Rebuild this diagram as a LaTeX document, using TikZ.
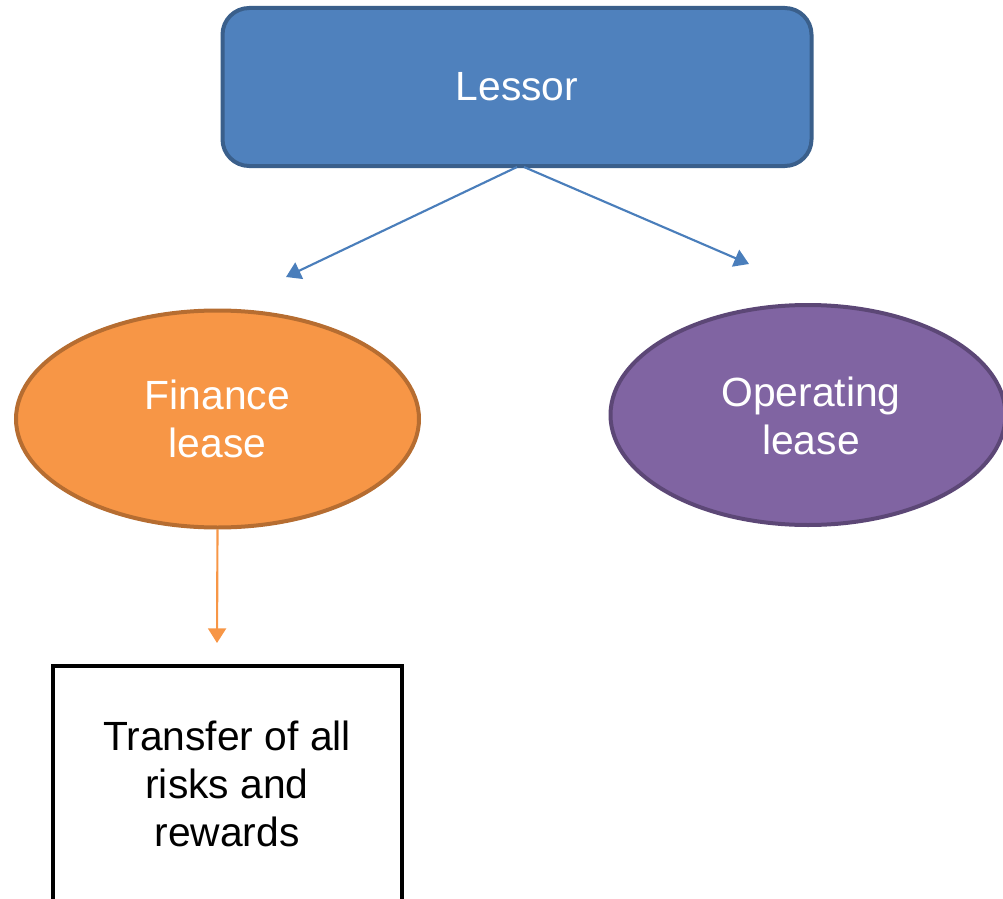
\documentclass[tikz,border=0pt]{standalone}
\usepackage{fontspec}
\setmainfont{Liberation Sans}
\usetikzlibrary{shapes.geometric,arrows.meta,calc}
\definecolor{lessorfill}{HTML}{4F81BD}
\definecolor{lessordraw}{HTML}{3A5F8B}
\definecolor{finfill}{HTML}{F79646}
\definecolor{findraw}{HTML}{B66D31}
\definecolor{opfill}{HTML}{8064A2}
\definecolor{opdraw}{HTML}{5C4776}
\definecolor{arrblue}{HTML}{4A7EBB}
\tikzset{
  lbl/.style={font=\fontsize{30.6}{36}\selectfont, align=center},
  roundbox/.style={draw=lessordraw, fill=lessorfill, line width=3pt, rounded corners=20pt, text=white, lbl},
  oval/.style={ellipse, line width=3pt, text=white, lbl, inner sep=0pt},
  plainbox/.style={draw=black, fill=white, line width=3pt, lbl},
  link/.style={line width=1.6pt, -{Triangle[width=13.5pt,length=11pt]}},
}
\begin{document}
\begin{tikzpicture}[x=0.75pt, y=-0.75pt]
\useasboundingbox (0,0) rectangle (1003,899);
\clip (0,0) rectangle (1003,899);
\node[roundbox, minimum width=589*0.75pt, minimum height=158*0.75pt] (lessor) at (517,87) {Lessor};
\node[oval, draw=findraw, fill=finfill, minimum width=403*0.75pt, minimum height=217*0.75pt] (fin) at (217.5,419) {Finance\\lease};
\node[oval, draw=opdraw, fill=opfill, minimum width=395*0.75pt, minimum height=220*0.75pt] (op) at (808,415) {};
\node[lbl, text=white] (optext) at (811,416) {Operating\\lease};
\node[plainbox, minimum width=349*0.75pt, minimum height=300*0.75pt, anchor=north] (tr) at (227,664) {};
\node[lbl] (trtext) at (227,784) {Transfer of all\\risks and\\rewards};
\coordinate (t1) at (286,277);
\coordinate (t2) at (749,264);
\coordinate (t3) at (217,643);
\draw[link, draw=arrblue, fill=arrblue] ($(lessor.south)+(0,-1)$) -- (t1);
\draw[link, draw=arrblue, fill=arrblue] ($(lessor.south)+(7,-1)$) -- (t2);
\draw[link, draw=finfill, fill=finfill] (fin.south) -- (t3);
\end{tikzpicture}
\end{document}
